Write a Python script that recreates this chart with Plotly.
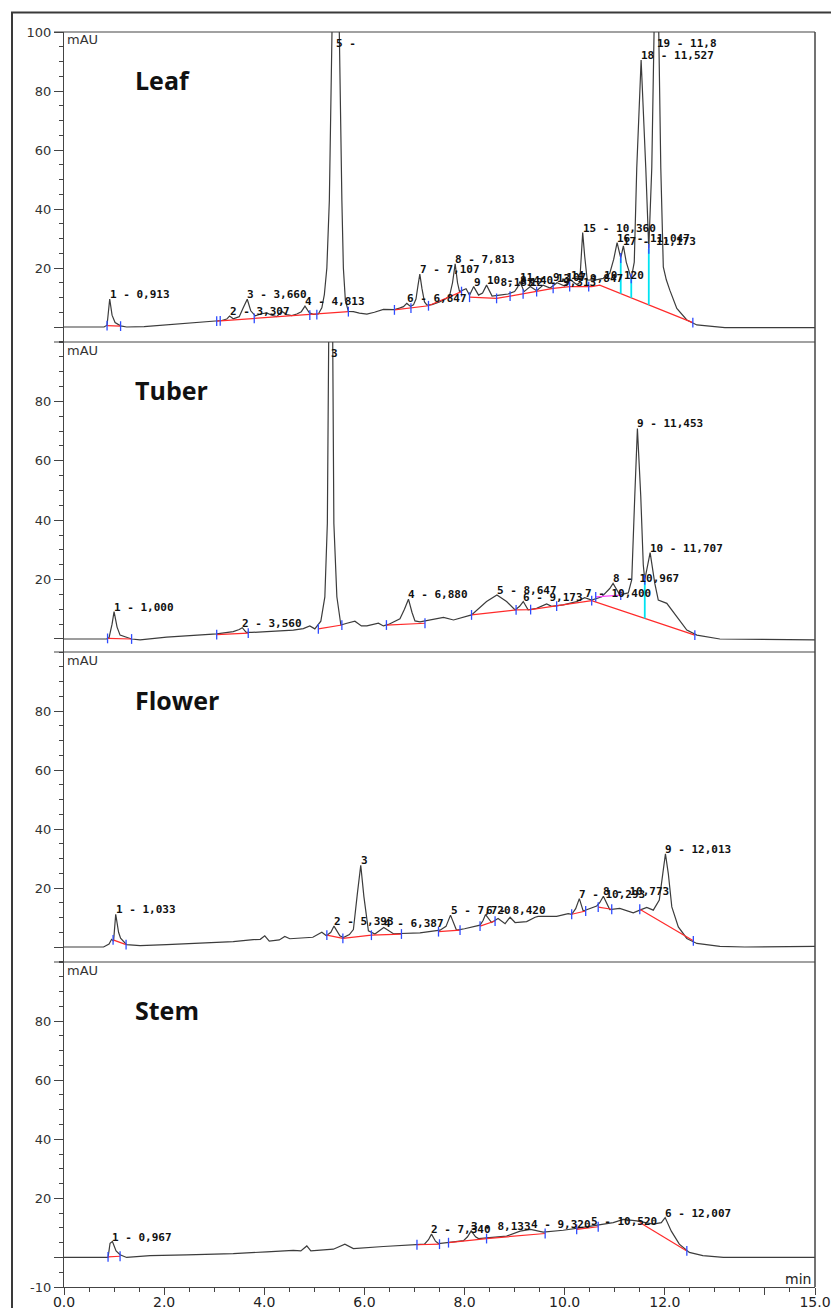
import plotly.graph_objects as go

W, H = 831, 1308

# ------------------------------------------------------------------
# Leaf chromatogram: signal points between peaks (min, mAU)
leaf_t = [0.00, 0.80, 0.86, 0.96, 1.02, 1.13, 1.25, 1.60, 2.00, 2.50, 3.00, 3.15, 3.25,
          3.38, 3.50, 3.58, 3.73, 3.82, 3.95, 4.05, 4.15, 4.25, 4.35, 4.45, 4.55, 4.65, 4.74,
          4.90, 4.98, 5.08, 5.15, 5.20, 5.25, 5.30, 5.55, 5.58, 5.62, 5.68, 5.78, 5.90, 6.05,
          6.20, 6.38, 6.50, 6.60, 6.70, 6.78, 6.92, 6.98, 7.03, 7.07, 7.15, 7.20, 7.25, 7.35,
          7.50, 7.62, 7.70, 7.76, 7.86, 7.90, 7.96, 8.03, 8.10, 8.28, 8.36, 8.55, 8.70, 8.87,
          9.00, 9.06, 9.19, 9.44, 9.57, 9.71, 10.00, 10.24, 10.30, 10.33, 10.40, 10.45, 10.60,
          10.77, 10.90, 10.98, 11.12, 11.23, 11.33, 11.39, 11.44, 11.62, 11.68, 11.74, 11.92,
          11.97, 12.03, 12.10, 12.24, 12.44, 12.64, 13.00, 13.20, 15.00]
leaf_v = [0.0, 0.0, 0.6, 4.0, 1.5, 0.4, 0.0, 0.1, 0.6, 1.2, 1.9, 2.2, 2.7,
          2.8, 3.5, 6.5, 5.5, 3.8, 4.5, 4.8, 4.0, 3.5, 5.3, 4.2, 3.9, 4.4, 5.2,
          4.8, 4.3, 4.4, 6.5, 11.0, 20.0, 43.0, 43.0, 20.0, 9.0, 5.3, 5.2, 4.7, 4.4,
          5.0, 6.0, 6.0, 5.9, 6.4, 6.9, 7.0, 7.5, 9.5, 14.0, 13.0, 8.5, 7.4, 7.6,
          8.5, 9.5, 10.5, 15.0, 15.0, 12.0, 12.4, 13.0, 10.8, 10.8, 11.5, 10.5, 10.8, 11.2,
          12.0, 13.5, 12.0, 12.3, 14.2, 13.2, 13.9, 14.4, 15.0, 24.0, 24.0, 16.0, 15.9,
          16.5, 18.2, 23.0, 23.4, 22.0, 16.5, 22.0, 54.0, 54.0, 26.5, 54.0, 54.0,
          20.4, 16.0, 12.5, 6.3, 2.4, 0.7, 0.0, -0.2, -0.2]
# integrated peaks: number, retention time (min), apex height (mAU)
leaf_peak_no = list(range(1, 20))
leaf_peak_rt = [0.913, 3.307, 3.660, 4.813, 5.427, 6.847, 7.107, 7.813, 8.183, 8.440,
                9.107, 9.313, 9.847, 10.120, 10.360, 11.047, 11.173, 11.527, 11.835]
leaf_peak_h = [9.5, 3.7, 9.4, 7.1, 180.0, 8.0, 17.9, 21.4, 13.7, 14.2,
               15.4, 13.7, 15.0, 15.9, 32.0, 28.6, 27.5, 90.5, 150.0]
leaf_label_cut = {5: "5 -", 19: "19 - 11,8"}
# integration baseline (segments separated by None)
leaf_base_t = [0.86, 1.13, None, 3.05, 5.68, None, 6.60, 7.28, 7.94, None,
               8.10, 8.64, 8.91, 9.44, 9.77, 10.10, 10.54, 10.70, 12.56]
leaf_base_v = [0.5, 0.3, None, 2.0, 5.2, None, 5.8, 7.2, 12.0, None,
               10.1, 9.7, 10.5, 12.0, 13.1, 13.7, 13.7, 14.2, 1.5]
leaf_mark_t = [0.86, 1.13, 3.05, 3.12, 3.80, 4.91, 5.05, 5.68, 6.60, 6.93, 7.28, 7.94,
               8.10, 8.64, 8.91, 9.17, 9.44, 9.77, 10.10, 10.48, 12.56, 11.12, 11.33, 11.68]
leaf_mark_v = [0.5, 0.3, 2.0, 2.1, 2.9, 4.0, 4.2, 5.2, 5.8, 6.4, 7.2, 12.0,
               10.1, 9.7, 10.5, 11.2, 12.0, 13.1, 13.7, 13.7, 1.5, 23.4, 16.5, 26.5]
leaf_drop_t = [11.12, 11.33, 11.68]
leaf_drop_top = [23.4, 16.5, 26.5]
leaf_drop_bot = [11.3, 9.9, 7.5]

# ------------------------------------------------------------------
# Tuber chromatogram
tuber_t = [0.00, 0.85, 0.90, 0.96, 1.06, 1.12, 1.35, 1.52, 2.05, 3.05, 3.38, 3.50,
           3.64, 3.75, 4.05, 4.58, 4.78, 4.91, 5.01, 5.08, 5.13, 5.21, 5.26, 5.39, 5.45,
           5.53, 5.65, 5.81, 5.94, 6.05, 6.28, 6.38, 6.48, 6.71, 6.80, 6.95, 7.01, 7.11,
           7.58, 7.78, 8.14, 8.44, 8.84, 9.01, 9.10, 9.27, 9.44, 9.64, 9.74, 9.97, 10.24,
           10.54, 10.74, 10.90, 11.10, 11.27, 11.34, 11.40, 11.52, 11.57, 11.60, 11.66,
           11.80, 11.87, 12.04, 12.24, 12.44, 12.64, 13.10, 15.00]
tuber_v = [0.0, 0.0, 0.5, 5.0, 4.0, 1.3, 0.0, -0.3, 0.6, 1.7, 2.5, 3.2,
           2.2, 2.2, 2.5, 3.0, 3.5, 4.4, 3.4, 4.8, 6.0, 14.2, 39.0, 39.0, 14.2,
           4.7, 5.3, 6.0, 4.4, 4.4, 5.3, 4.4, 4.9, 6.8, 10.0, 9.0, 6.1, 5.8,
           7.3, 6.4, 8.1, 12.6, 12.6, 9.8, 11.0, 9.8, 10.3, 11.8, 11.0, 11.5, 12.6,
           13.1, 14.2, 17.0, 14.9, 15.5, 20.0, 48.0, 48.0, 25.0, 19.9, 25.0,
           18.7, 13.1, 12.0, 7.5, 3.0, 1.3, 0.0, -0.3]
tuber_peak_no = list(range(1, 11))
tuber_peak_rt = [1.000, 3.560, 5.330, 6.880, 8.647, 9.173, 10.400, 10.967, 11.453, 11.707]
tuber_peak_h = [9.2, 3.8, 200.0, 13.4, 14.8, 12.6, 13.9, 18.7, 70.9, 29.1]
tuber_label_cut = {3: "3"}
tuber_base_t = [0.87, 1.35, None, 3.05, 3.68, None, 5.08, 5.55, None, 6.44, 7.21, None,
                8.14, 9.03, 9.32, 9.84, 10.54, 12.60]
tuber_base_v = [0.2, 0.0, None, 1.5, 2.0, None, 3.4, 4.7, None, 4.7, 5.3, None,
                8.1, 9.8, 9.9, 11.1, 12.9, 1.3]
tuber_split_t = [10.62, 11.12]
tuber_split_v = [14.2, 14.8]
tuber_mark_t = [0.87, 1.35, 3.05, 3.68, 5.08, 5.55, 6.44, 7.21, 8.14, 9.03, 9.32, 9.84,
                10.54, 10.62, 11.12, 12.60, 11.60]
tuber_mark_v = [0.2, 0.0, 1.5, 2.0, 3.4, 4.7, 4.7, 5.3, 8.1, 9.8, 9.9, 11.1,
                12.9, 14.2, 14.8, 1.3, 19.9]
tuber_drop_t = [11.60]
tuber_drop_top = [19.9]
tuber_drop_bot = [6.9]

# ------------------------------------------------------------------
# Flower chromatogram
flower_t = [0.00, 0.79, 0.90, 0.95, 0.99, 1.09, 1.13, 1.25, 1.52, 2.05, 2.72, 3.38, 3.78,
            3.92, 4.01, 4.10, 4.30, 4.41, 4.51, 4.71, 4.97, 5.15, 5.24, 5.33, 5.51, 5.58,
            5.70, 5.78, 5.86, 5.99, 6.08, 6.21, 6.30, 6.58, 6.91, 7.11, 7.51, 7.63, 7.84,
            8.00, 8.31, 8.37, 8.54, 8.67, 8.81, 8.91, 9.01, 9.24, 9.41, 9.47, 9.84, 10.07,
            10.14, 10.22, 10.37, 10.64, 10.70, 10.90, 11.10, 11.37, 11.50, 11.64, 11.77,
            11.89, 11.96, 12.07, 12.14, 12.27, 12.44, 12.64, 13.10, 13.60, 15.00]
flower_v = [0.0, 0.0, 1.0, 2.6, 2.0, 5.0, 3.0, 0.8, 0.5, 0.8, 1.4, 1.8, 2.5,
            2.6, 3.8, 2.0, 2.4, 3.6, 2.8, 3.0, 3.3, 5.0, 3.8, 5.0, 3.8, 3.2,
            4.2, 5.9, 18.2, 17.1, 5.5, 4.4, 5.5, 4.5, 4.7, 4.8, 5.7, 7.0, 5.7,
            6.2, 7.4, 9.0, 8.3, 9.7, 7.9, 10.1, 8.3, 8.6, 10.1, 10.4, 10.4, 11.3,
            11.1, 13.0, 12.2, 13.9, 15.0, 12.7, 13.1, 11.6, 12.5, 13.4, 12.5,
            15.9, 24.9, 24.9, 13.6, 6.8, 2.9, 1.2, 0.2, 0.0, 0.2]
flower_peak_no = list(range(1, 10))
flower_peak_rt = [1.033, 5.393, 5.927, 6.387, 7.720, 8.420, 10.293, 10.773, 12.013]
flower_peak_h = [11.1, 7.1, 27.7, 6.6, 10.8, 11.0, 16.4, 17.2, 31.6]
flower_label_cut = {3: "3"}
flower_base_t = [0.98, 1.24, None, 5.25, 5.57, 6.14, 6.74, None, 7.48, 7.91, None,
                 8.31, 8.61, None, 10.14, 10.42, None, 10.67, 10.94, None, 11.50, 12.57]
flower_base_v = [2.4, 0.8, None, 4.0, 2.9, 4.0, 4.4, None, 5.2, 5.7, None,
                 7.1, 8.8, None, 11.1, 12.2, None, 13.5, 12.8, None, 12.8, 2.1]
flower_mark_t = [0.98, 1.24, 5.25, 5.57, 6.14, 6.74, 7.48, 7.91, 8.31, 8.61,
                 10.14, 10.42, 10.67, 10.94, 11.50, 12.57]
flower_mark_v = [2.4, 0.8, 4.0, 2.9, 4.0, 4.4, 5.2, 5.7, 7.1, 8.8,
                 11.1, 12.2, 13.5, 12.8, 12.8, 2.1]

# ------------------------------------------------------------------
# Stem chromatogram
stem_t = [0.00, 0.88, 0.92, 1.04, 1.12, 1.25, 1.72, 2.45, 3.38, 4.05, 4.58, 4.73, 4.85,
          4.93, 5.38, 5.61, 5.78, 6.38, 7.04, 7.20, 7.28, 7.42, 7.48, 7.78, 7.98, 8.06,
          8.22, 8.28, 8.44, 8.84, 9.11, 9.57, 9.97, 10.30, 10.71, 10.97, 11.17, 11.44,
          11.77, 11.93, 12.13, 12.29, 12.49, 12.76, 13.17, 15.00]
stem_v = [0.0, 0.0, 4.8, 2.2, 0.9, 0.0, 0.6, 0.9, 1.3, 1.9, 2.4, 2.2, 3.9,
          2.2, 2.8, 4.5, 3.0, 3.7, 4.5, 4.5, 6.0, 5.5, 4.7, 5.3, 5.7, 7.0,
          7.0, 6.4, 6.6, 7.2, 8.9, 8.6, 9.2, 10.0, 11.0, 11.8, 12.9, 12.4,
          11.3, 11.8, 8.9, 4.5, 1.7, 0.6, 0.05, 0.0]
stem_peak_no = list(range(1, 7))
stem_peak_rt = [0.967, 7.340, 8.133, 9.320, 10.520, 12.007]
stem_peak_h = [5.4, 7.9, 9.0, 9.5, 10.6, 13.5]
stem_label_cut = {}
stem_base_t = [0.88, 1.12, None, 7.05, 7.50, None, 7.68, 8.44, 9.61, None,
               10.24, 10.67, None, 11.50, 12.44]
stem_base_v = [0.2, 0.4, None, 4.3, 4.5, None, 5.0, 6.4, 8.1, None,
               9.5, 10.4, None, 11.8, 2.2]
stem_mark_t = [0.88, 1.12, 7.05, 7.50, 7.68, 8.44, 9.61, 10.24, 10.67, 12.44]
stem_mark_v = [0.2, 0.4, 4.3, 4.5, 5.0, 6.4, 8.1, 9.5, 10.4, 2.2]

# ------------------------------------------------------------------
x_tickvals = [0, 2, 4, 6, 8, 10, 12, 14, 15]
x_ticktext = ["0.0", "2.0", "4.0", "6.0", "8.0", "10.0", "12.0", "", "15.0"]

TRACE = "#3c3c3c"
AXIS = "#444444"
RED = "#ff2a2a"
BLUE = "#2f4cff"
CYAN = "#00e3f2"


def merge(t, v, rt, h):
    pts = sorted(list(zip(t, v)) + list(zip(rt, h)))
    return [p[0] for p in pts], [p[1] for p in pts]


def drops(dt, top, bot):
    xs, ys = [], []
    for a, b, c in zip(dt, top, bot):
        xs += [a, a, None]
        ys += [b, c, None]
    return xs, ys


panels = [
    dict(name="Leaf", t=leaf_t, v=leaf_v, no=leaf_peak_no, rt=leaf_peak_rt, h=leaf_peak_h,
         cut=leaf_label_cut, bt=leaf_base_t, bv=leaf_base_v, mt=leaf_mark_t, mv=leaf_mark_v,
         drop=drops(leaf_drop_t, leaf_drop_top, leaf_drop_bot), split=None,
         top=32, bottom=342, yr=[-5.08, 100], ticks=[0, 20, 40, 60, 80, 100]),
    dict(name="Tuber", t=tuber_t, v=tuber_v, no=tuber_peak_no, rt=tuber_peak_rt, h=tuber_peak_h,
         cut=tuber_label_cut, bt=tuber_base_t, bv=tuber_base_v, mt=tuber_mark_t, mv=tuber_mark_v,
         drop=drops(tuber_drop_t, tuber_drop_top, tuber_drop_bot),
         split=(tuber_split_t, tuber_split_v),
         top=342, bottom=652, yr=[-4.38, 100], ticks=[0, 20, 40, 60, 80]),
    dict(name="Flower", t=flower_t, v=flower_v, no=flower_peak_no, rt=flower_peak_rt,
         h=flower_peak_h, cut=flower_label_cut, bt=flower_base_t, bv=flower_base_v,
         mt=flower_mark_t, mv=flower_mark_v, drop=None, split=None,
         top=652, bottom=962, yr=[-5.08, 100], ticks=[0, 20, 40, 60, 80]),
    dict(name="Stem", t=stem_t, v=stem_v, no=stem_peak_no, rt=stem_peak_rt, h=stem_peak_h,
         cut=stem_label_cut, bt=stem_base_t, bv=stem_base_v, mt=stem_mark_t, mv=stem_mark_v,
         drop=None, split=None,
         top=962, bottom=1287, yr=[-10, 100], ticks=[-10, 0, 20, 40, 60, 80]),
]

X0, X1 = 64, 815
fig = go.Figure()
annotations = []
shapes = []
layout = dict(
    width=W, height=H, margin=dict(l=0, r=0, t=0, b=0, autoexpand=False),
    paper_bgcolor="white", plot_bgcolor="white", showlegend=False,
)

tick_font = dict(family="DejaVu Sans", size=13, color="#333333")
label_font = dict(family="DejaVu Sans Mono", size=11, color="#111111", weight="bold")

for i, p in enumerate(panels, start=1):
    sfx = "" if i == 1 else str(i)
    xref, yref = "x" + sfx, "y" + sfx

    ct, cv = merge(p["t"], p["v"], p["rt"], p["h"])
    fig.add_trace(go.Scatter(x=ct, y=cv, mode="lines", xaxis=xref, yaxis=yref,
                             line=dict(color=TRACE, width=1.2), hoverinfo="skip"))
    fig.add_trace(go.Scatter(x=p["bt"], y=p["bv"], mode="lines", xaxis=xref, yaxis=yref,
                             line=dict(color=RED, width=1.2), connectgaps=False,
                             hoverinfo="skip"))
    if p["split"]:
        fig.add_trace(go.Scatter(x=p["split"][0], y=p["split"][1], mode="lines",
                                 xaxis=xref, yaxis=yref,
                                 line=dict(color="#ff45ff", width=1.2), hoverinfo="skip"))
    if p["drop"]:
        fig.add_trace(go.Scatter(x=p["drop"][0], y=p["drop"][1], mode="lines",
                                 xaxis=xref, yaxis=yref, connectgaps=False,
                                 line=dict(color=CYAN, width=1.8), hoverinfo="skip"))
    fig.add_trace(go.Scatter(x=p["mt"], y=p["mv"], mode="markers", xaxis=xref, yaxis=yref,
                             marker=dict(symbol="line-ns", size=7,
                                         line=dict(color=BLUE, width=1.3)),
                             hoverinfo="skip"))

    # peak labels: "n - rt" placed at each apex
    for n, rt, h in zip(p["no"], p["rt"], p["h"]):
        txt = p["cut"].get(n, f"{n} - {rt:.3f}".replace(".", ","))
        annotations.append(dict(x=rt, y=min(h, 94.5), xref=xref, yref=yref, text=txt,
                                showarrow=False, xanchor="left", yanchor="middle",
                                xshift=-2, yshift=4.5, font=label_font))

    y_top = 1 - p["top"] / H
    y_bot = 1 - p["bottom"] / H
    ticktext = ["" if v == 0 else str(v) for v in p["ticks"]]
    layout["yaxis" + sfx] = dict(
        domain=[y_bot, y_top], range=p["yr"], anchor=xref, automargin=False,
        tickmode="array", tickvals=p["ticks"], ticktext=ticktext,
        ticks="outside", ticklen=9, tickwidth=1, tickcolor=AXIS,
        minor=dict(tickmode="linear", tick0=0, dtick=5, ticks="outside", ticklen=4,
                   tickwidth=1, tickcolor=AXIS),
        showline=True, linecolor=AXIS, linewidth=1.2, showgrid=False, zeroline=False,
        tickfont=tick_font, fixedrange=True,
    )
    xa = dict(domain=[X0 / W, X1 / W], range=[0, 15], anchor=yref, showgrid=False,
              zeroline=False, fixedrange=True, automargin=False)
    if i < 4:
        xa.update(visible=False, matches="x4")
    else:
        xa.update(tickmode="array", tickvals=x_tickvals, ticktext=x_ticktext,
                  ticks="outside", ticklen=7, tickwidth=1, tickcolor=AXIS,
                  ticklabelstandoff=-5,
                  minor=dict(tickmode="linear", tick0=0, dtick=0.5, ticks="outside",
                             ticklen=4, tickwidth=1, tickcolor=AXIS),
                  showline=True, linecolor=AXIS, linewidth=1.2,
                  tickfont=dict(family="DejaVu Sans", size=14, color="#222222"))
    layout["xaxis" + sfx] = xa

    # panel separator line along the top edge
    shapes.append(dict(type="line", xref="paper", yref="paper",
                       x0=54 / W, x1=X1 / W, y0=y_top, y1=y_top,
                       line=dict(color=AXIS, width=1.2)))
    # mAU unit and sample name
    annotations.append(dict(x=65 / W, y=1 - (p["top"] + 8) / H, xref="paper", yref="paper",
                            text="mAU", showarrow=False, xanchor="left", yanchor="middle",
                            font=dict(family="DejaVu Sans", size=13, color="#333333")))
    annotations.append(dict(x=133 / W, y=1 - (p["top"] + 48) / H, xref="paper",
                            yref="paper", text=p["name"], showarrow=False,
                            xanchor="left", yanchor="middle",
                            font=dict(family="Open Sans", size=25, color="#111111",
                                      weight="bold")))

# right border of the plotting area
shapes.append(dict(type="line", xref="paper", yref="paper", x0=X1 / W, x1=X1 / W,
                   y0=1 - 1287 / H, y1=1 - 32 / H, line=dict(color=AXIS, width=1.5)))
# outer frame
shapes.append(dict(type="rect", xref="paper", yref="paper", x0=12 / W, x1=850 / W,
                   y0=1 - 1340 / H, y1=1 - 12.5 / H, line=dict(color="#3a3a3a", width=2)))

annotations.append(dict(x=813 / W, y=1 - 1279 / H, xref="paper", yref="paper", text="min",
                        showarrow=False, xanchor="right", yanchor="middle",
                        font=dict(family="DejaVu Sans", size=14, color="#222222")))

layout["annotations"] = annotations
layout["shapes"] = shapes
fig.update_layout(**layout)
fig.write_html("out.html")
